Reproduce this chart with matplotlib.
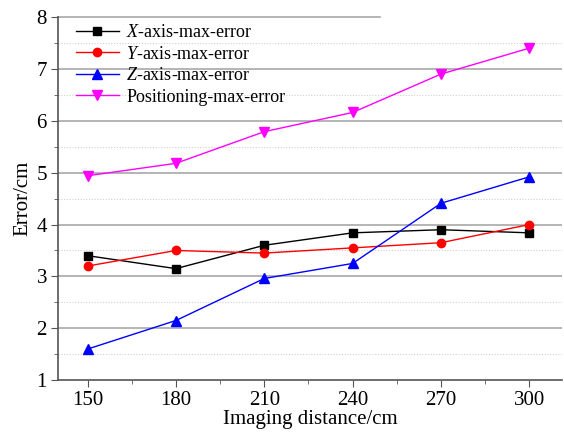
import numpy as np
import matplotlib.pyplot as plt
from matplotlib.ticker import MultipleLocator

plt.rcParams['font.family'] = 'Liberation Serif'
plt.rcParams['mathtext.fontset'] = 'custom'
plt.rcParams['mathtext.it'] = 'Liberation Serif:italic'
plt.rcParams['mathtext.rm'] = 'Liberation Serif'

# data
distance = [150, 180, 210, 240, 270, 300]
x_err = [3.40, 3.15, 3.60, 3.84, 3.90, 3.84]
y_err = [3.20, 3.50, 3.45, 3.55, 3.65, 4.00]
z_err = [1.60, 2.15, 2.96, 3.25, 4.41, 4.92]
pos_err = [4.94, 5.18, 5.79, 6.16, 6.90, 7.40]

y_major = [1, 2, 3, 4, 5, 6, 7, 8]
y_minor = [1.5, 2.5, 3.5, 4.5, 5.5, 6.5, 7.5]

fig = plt.figure(figsize=(5.64, 4.36), dpi=100)
ax = fig.add_axes([0.103, 0.128, 0.893, 0.833])

# grid lines (top one is cut short, as in the original)
for v in y_major[1:-1]:
    ax.axhline(v, color='#a8a8a8', lw=1.2, zorder=0)
ax.axhline(y_major[-1], xmax=0.64, color='#a8a8a8', lw=1.2, zorder=0, clip_on=False)
for v in y_minor:
    ax.axhline(v, color='#d0d0d0', lw=0.8, ls=(0, (1, 1.5)), zorder=0)

ax.plot(distance, x_err, color='black', lw=1, marker='s', ms=5.5, label=r'$X$-axis-max-error')
ax.plot(distance, y_err, color='red', lw=1, marker='o', ms=6, label=r'$Y$-axis-max-error')
ax.plot(distance, z_err, color='blue', lw=1, marker='^', ms=7, label=r'$Z$-axis-max-error')
ax.plot(distance, pos_err, color='magenta', lw=1, marker='v', ms=7, label='Positioning-max-error')

ax.set_xlim(140, 311)
ax.set_ylim(1, 8)
ax.set_xticks(distance)
ax.xaxis.set_minor_locator(MultipleLocator(15))
ax.set_yticks(y_major)
ax.yaxis.set_minor_locator(MultipleLocator(0.5))

for s in ['top', 'right']:
    ax.spines[s].set_visible(False)
for s in ['left', 'bottom']:
    ax.spines[s].set_color('#555555')
    ax.spines[s].set_linewidth(1.2)

ax.tick_params(which='major', length=5, color='#555555', labelsize=15, pad=3)
ax.tick_params(which='minor', length=3, color='#555555')

ax.set_xlabel('Imaging distance/cm', fontsize=15, labelpad=0)
ax.set_ylabel('Error/cm', fontsize=15, labelpad=3)

ax.legend(loc='upper left', bbox_to_anchor=(0.01, 1.015), frameon=False, fontsize=13,
          handlelength=2.4, handletextpad=0.4, labelspacing=0.25, borderpad=0.2)

fig.savefig('out.png', dpi=100)
